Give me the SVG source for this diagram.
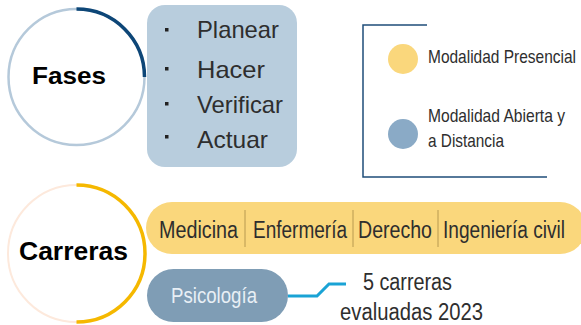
<svg xmlns="http://www.w3.org/2000/svg" width="581" height="325" viewBox="0 0 581 325">
<style>
.t{font-family:"Liberation Sans",Arial,sans-serif;fill:#2e2e2e}
.b{font-family:"Liberation Sans",Arial,sans-serif;font-weight:bold;fill:#000}
.ph{font-size:24px}
.lg{font-size:15.5px}
.cr{font-size:19px}
.nt{font-size:20px}
.sep{stroke:#b89a50;stroke-width:1}
.bul{fill:#222}
</style>
<rect width="581" height="325" fill="#fff"/>
<g id="fases">
<circle cx="76.5" cy="77" r="68" fill="#fff" stroke="#b5c9da" stroke-width="2.5"/>
<path d="M76.5 9 A68 68 0 0 1 144.5 77" fill="none" stroke="#0d4677" stroke-width="3.5"/>
<text class="b" x="69" y="84" font-size="24" text-anchor="middle" textLength="74" lengthAdjust="spacingAndGlyphs">Fases</text>
</g>
<g id="phases-box">
<rect x="147" y="5" width="150" height="162" rx="18" fill="#b8cddd"/>
<rect class="bul" x="165" y="28" width="3.5" height="3.5"/>
<rect class="bul" x="165" y="67" width="3.5" height="3.5"/>
<rect class="bul" x="165" y="102" width="3.5" height="3.5"/>
<rect class="bul" x="165" y="135" width="3.5" height="3.5"/>
<text class="t ph" x="197" y="38" textLength="82" lengthAdjust="spacingAndGlyphs">Planear</text>
<text class="t ph" x="197" y="78" textLength="68" lengthAdjust="spacingAndGlyphs">Hacer</text>
<text class="t ph" x="197" y="113" textLength="86" lengthAdjust="spacingAndGlyphs">Verificar</text>
<text class="t ph" x="197" y="148" textLength="71" lengthAdjust="spacingAndGlyphs">Actuar</text>
</g>
<g id="legend">
<path d="M427 25 H363 V177 H547" fill="none" stroke="#1f4e79" stroke-width="1.5"/>
<circle cx="403" cy="59" r="15" fill="#fad77c"/>
<circle cx="403" cy="134" r="15" fill="#8aaac6"/>
<text class="t lg" transform="translate(428 63) scale(1 1.2)" textLength="148" lengthAdjust="spacingAndGlyphs">Modalidad Presencial</text>
<text class="t lg" transform="translate(428 122) scale(1 1.2)" textLength="137" lengthAdjust="spacingAndGlyphs">Modalidad Abierta y</text>
<text class="t lg" transform="translate(428 147) scale(1 1.2)" textLength="76" lengthAdjust="spacingAndGlyphs">a Distancia</text>
</g>
<g id="carreras">
<circle cx="76.5" cy="253.5" r="68.5" fill="#fff" stroke="#fde9dc" stroke-width="2"/>
<path d="M76.5 185 A68.5 68.5 0 0 1 76.5 322" fill="none" stroke="#f5b800" stroke-width="3.5"/>
<text class="b" x="73.5" y="260" font-size="25" text-anchor="middle" textLength="109" lengthAdjust="spacingAndGlyphs">Carreras</text>
</g>
<g id="careers-bar">
<rect x="146" y="202" width="440" height="52" rx="26" fill="#fad77c"/>
<line class="sep" x1="245" y1="210" x2="245" y2="247"/>
<line class="sep" x1="353" y1="210" x2="353" y2="247"/>
<line class="sep" x1="438" y1="210" x2="438" y2="247"/>
<text class="t cr" transform="translate(159 238) scale(1 1.3)" textLength="79" lengthAdjust="spacingAndGlyphs">Medicina</text>
<text class="t cr" transform="translate(253 238) scale(1 1.3)" textLength="94" lengthAdjust="spacingAndGlyphs">Enfermería</text>
<text class="t cr" transform="translate(358 238) scale(1 1.3)" textLength="74" lengthAdjust="spacingAndGlyphs">Derecho</text>
<text class="t cr" transform="translate(443 238) scale(1 1.3)" textLength="122" lengthAdjust="spacingAndGlyphs">Ingeniería civil</text>
</g>
<g id="psicologia">
<rect x="147" y="269" width="141" height="53" rx="26.5" fill="#7f9db5"/>
<text class="cr" transform="translate(171 303) scale(1 1.2)" font-family="Liberation Sans, Arial, sans-serif" fill="#e8eff5" textLength="86" lengthAdjust="spacingAndGlyphs">Psicología</text>
</g>
<g id="connectors">
<path d="M288 296 H317 L329 284 H346" fill="none" stroke="#1aa3d5" stroke-width="3"/>
</g>
<g id="note">
<text class="t nt" transform="translate(363 290) scale(1 1.15)" textLength="89" lengthAdjust="spacingAndGlyphs">5 carreras</text>
<text class="t nt" transform="translate(340 320) scale(1 1.15)" textLength="143" lengthAdjust="spacingAndGlyphs">evaluadas 2023</text>
</g>
</svg>
